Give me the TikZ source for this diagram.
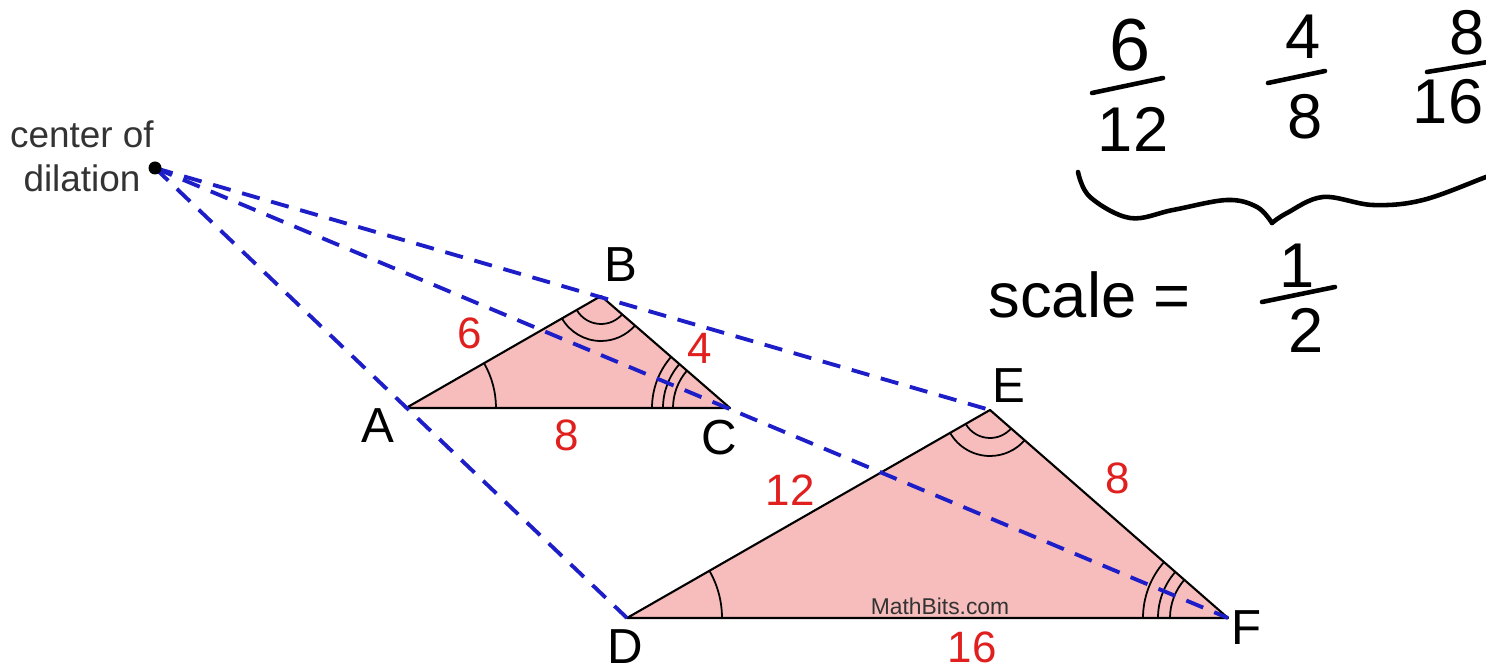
\documentclass[tikz,border=0pt]{standalone}
\usepackage{fontspec}
\setmainfont{Liberation Sans}
\usetikzlibrary{angles}
\definecolor{tri}{HTML}{F7BDBD}
\definecolor{lblred}{HTML}{E0201E}
\definecolor{dil}{HTML}{1E1EC8}
\definecolor{txtgray}{HTML}{333333}
\begin{document}
\begin{tikzpicture}[x=1cm,y=1cm,
  edge/.style={draw=black, line width=0.6pt, line join=round},
  ray/.style={draw=dil, line width=1.1pt, dash pattern=on 5.2pt off 3.4pt},
  vlabel/.style={font=\fontsize{14}{14}\selectfont, text=black, inner sep=0pt},
  side/.style={font=\fontsize{12.5}{12.5}\selectfont, text=lblred, inner sep=0pt},
  anglearc/.style={draw=black, line width=0.5pt},
  hand/.style={line width=1.3pt, line cap=round, line join=round},
  htext/.style={font=\fontsize{18}{18}\selectfont, inner sep=0pt}
]
\clip (0,0) rectangle (14.86,-6.70);
\fill[white] (0,0) rectangle (14.86,-6.70);

% vertices
\coordinate (O) at (1.55,-1.68);
\coordinate (A) at (4.06,-4.08);
\coordinate (B) at (6.01,-2.96);
\coordinate (C) at (7.30,-4.08);
\coordinate (D) at (6.27,-6.18);
\coordinate (E) at (9.90,-4.10);
\coordinate (F) at (12.28,-6.18);

% triangles
\fill[tri] (A) -- (B) -- (C) -- cycle;
\fill[tri] (D) -- (E) -- (F) -- cycle;

% angle marks
\pic[anglearc, angle radius=0.90cm] {angle=C--A--B};
\pic[anglearc, angle radius=0.28cm] {angle=A--B--C};
\pic[anglearc, angle radius=0.45cm] {angle=A--B--C};
\pic[anglearc, angle radius=0.57cm] {angle=B--C--A};
\pic[anglearc, angle radius=0.67cm] {angle=B--C--A};
\pic[anglearc, angle radius=0.78cm] {angle=B--C--A};
\pic[anglearc, angle radius=0.95cm] {angle=F--D--E};
\pic[anglearc, angle radius=0.28cm] {angle=D--E--F};
\pic[anglearc, angle radius=0.46cm] {angle=D--E--F};
\pic[anglearc, angle radius=0.58cm] {angle=E--F--D};
\pic[anglearc, angle radius=0.70cm] {angle=E--F--D};
\pic[anglearc, angle radius=0.85cm] {angle=E--F--D};

\draw[edge] (A) -- (B) -- (C) -- cycle;
\draw[edge] (D) -- (E) -- (F) -- cycle;

% dilation rays
\draw[ray] (O) -- (D);
\draw[ray] (O) -- (E);
\draw[ray] (O) -- (F);
\fill[black] (O) circle (0.065);

% labels
\node[font=\fontsize{10.5}{12.5}\selectfont, text=txtgray, align=center, inner sep=0pt] (cod) at (0.82,-1.56) {center of\\dilation};
\node[vlabel] (lA) at (3.78,-4.26) {A};
\node[vlabel] (lB) at (6.21,-2.65) {B};
\node[vlabel] (lC) at (7.19,-4.38) {C};
\node[vlabel] (lD) at (6.25,-6.47) {D};
\node[vlabel] (lE) at (10.09,-3.86) {E};
\node[vlabel] (lF) at (12.47,-6.28) {F};

\node[side] (s6) at (4.70,-3.33) {6};
\node[side] (s4) at (7.00,-3.48) {4};
\node[side] (s8a) at (5.67,-4.35) {8};
\node[side] (s12) at (7.90,-4.90) {12};
\node[side] (s8b) at (11.18,-4.78) {8};
\node[side] (s16) at (9.72,-6.47) {16};
\node[font=\fontsize{6.5}{6.5}\selectfont, text=txtgray, inner sep=0pt] (mb) at (9.40,-6.06) {MathBits.com};

% handwritten notes
\node[htext, font=\fontsize{21}{21}\selectfont] (n6) at (11.30,-0.45) {6};
\draw[hand] (10.92,-0.93) -- (11.63,-0.78);
\node[htext] (d12) at (11.33,-1.29) {12};
\node[htext] (n4) at (13.03,-0.37) {4};
\draw[hand] (12.68,-0.83) -- (13.25,-0.71);
\node[htext] (d8) at (13.05,-1.17) {8};
\node[htext] (n8) at (14.67,-0.33) {8};
\draw[hand] (14.27,-0.72) -- (15.00,-0.60);
\node[htext] (d16) at (14.48,-1.02) {16};

\draw[hand] plot[smooth, tension=0.6] coordinates {(10.78,-1.72) (10.90,-1.97) (11.30,-2.18) (11.73,-2.10) (12.27,-2.00) (12.57,-2.07) (12.72,-2.23)};
\draw[hand] plot[smooth, tension=0.6] coordinates {(12.72,-2.23) (12.87,-2.13) (13.23,-1.97) (13.73,-2.05) (14.23,-2.00) (14.86,-1.77) (15.10,-1.68)};

\node[htext, anchor=west] (sc) at (9.88,-2.95) {scale =};
\node[htext] (n1) at (12.97,-2.66) {1};
\draw[hand] (12.62,-3.02) -- (13.35,-2.87);
\node[htext] (d2) at (13.06,-3.30) {2};
\end{tikzpicture}
\end{document}
